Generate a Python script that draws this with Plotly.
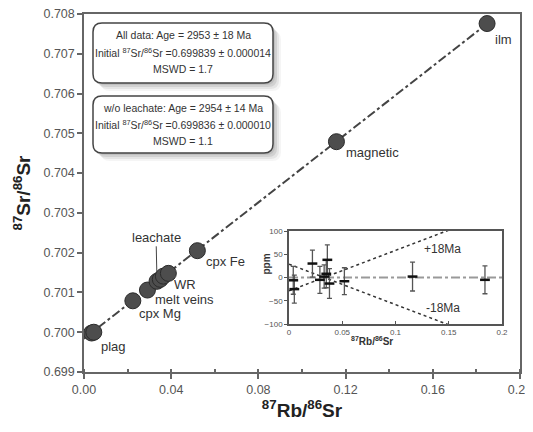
import plotly.graph_objects as go

# ---------------- data ----------------
point_labels = ["plag", "plag", "cpx Mg", "melt veins", "leachate", "WR", "WR", "WR", "cpx Fe", "magnetic", "ilm"]
rb_sr = [0.0035, 0.0045, 0.0224, 0.0291, 0.0335, 0.0350, 0.0364, 0.0387, 0.0520, 0.1158, 0.1849]
sr_sr = [0.69998, 0.70000, 0.70079, 0.70106, 0.70128, 0.70133, 0.70141, 0.70148, 0.70205, 0.70479, 0.70776]

iso_x = [0.0, 0.1849]
iso_y = [0.699839, 0.707756]

res_x = [0.004, 0.005, 0.022, 0.029, 0.033, 0.035, 0.036, 0.038, 0.052, 0.116, 0.184]
res_ppm = [-6, -25, 30, -5, 2, 8, 38, -13, -8, 2, -5]
res_err = [30, 30, 29, 29, 25, 30, 32, 32, 29, 31, 30]

env_x = [0.0, 0.2]
env_plus = [-28.7, 145.3]
env_minus = [28.7, -145.3]
zero_x = [0.0, 0.2]
zero_y = [0, 0]

main_xticks = [0.00, 0.04, 0.08, 0.12, 0.16, 0.20]
main_yticks = [0.699, 0.700, 0.701, 0.702, 0.703, 0.704, 0.705, 0.706, 0.707, 0.708]
inset_xticks = [0, 0.05, 0.1, 0.15, 0.2]
inset_yticks = [-100, -50, 0, 50, 100]

box1_lines = ["All data: Age = 2953 ± 18 Ma",
              "Initial <sup>87</sup>Sr/<sup>86</sup>Sr =0.699839 ± 0.000014",
              "MSWD = 1.7"]
box2_lines = ["w/o leachate: Age = 2954 ± 14 Ma",
              "Initial <sup>87</sup>Sr/<sup>86</sup>Sr =0.699836 ± 0.000010",
              "MSWD = 1.1"]

# ---------------- layout geometry ----------------
# the page body adds an 8px margin, so the figure is shrunk/shifted accordingly
OFF = 8
W, H = 533 - OFF, 432 - 2 * OFF
L, R, T, B = 84 - OFF, 13, 14 - OFF, 60 - OFF
PW, PH = W - L - R, H - T - B
FONT = "Liberation Sans, Arial, sans-serif"


def px(xp):
    # page pixel x -> paper
    return (xp - 84) / PW


def py(yp):
    # page pixel y -> paper
    return (14 + PH - yp) / PH


def rounded(x0, y0, x1, y1, r):
    a, b, c, d = px(x0), px(x1), py(y0), py(y1)
    rx, ry = r / PW, r / PH
    return (f"M {a+rx},{c} L {b-rx},{c} Q {b},{c} {b},{c-ry} "
            f"L {b},{d+ry} Q {b},{d} {b-rx},{d} L {a+rx},{d} "
            f"Q {a},{d} {a},{d+ry} L {a},{c-ry} Q {a},{c} {a+rx},{c} Z")


fig = go.Figure()

# isochron
fig.add_trace(go.Scatter(x=iso_x, y=iso_y, mode="lines",
                         line=dict(color="#444444", width=2, dash="dashdot"),
                         hoverinfo="skip", showlegend=False))
# data points
fig.add_trace(go.Scatter(x=rb_sr, y=sr_sr, mode="markers",
                         marker=dict(size=16, color="#4d4d4d",
                                     line=dict(color="#2b2b2b", width=1)),
                         showlegend=False))

# inset traces
fig.add_trace(go.Scatter(x=zero_x, y=zero_y, mode="lines", xaxis="x2", yaxis="y2",
                         line=dict(color="#999999", width=1.8, dash="dashdot"),
                         showlegend=False))
fig.add_trace(go.Scatter(x=env_x, y=env_plus, mode="lines", xaxis="x2", yaxis="y2",
                         line=dict(color="#333333", width=1.5, dash="dot"),
                         showlegend=False))
fig.add_trace(go.Scatter(x=env_x, y=env_minus, mode="lines", xaxis="x2", yaxis="y2",
                         line=dict(color="#333333", width=1.5, dash="dot"),
                         showlegend=False))
fig.add_trace(go.Scatter(x=res_x, y=res_ppm, mode="markers", xaxis="x2", yaxis="y2",
                         marker=dict(symbol="line-ew", size=7,
                                     line=dict(color="#111111", width=2.5)),
                         error_y=dict(type="data", array=res_err, color="#555555",
                                      thickness=1.3, width=2.5),
                         showlegend=False))

# ---------- point labels ----------
lab_offsets = {
    0: ("plag", 7, -13),
    2: ("cpx Mg", 4, -13),
    3: ("melt veins", 6, -9),
    7: ("WR", 4, -11),
    8: ("cpx Fe", 7, -11),
    9: ("magnetic", 8, -11),
    10: ("ilm", 6, -16),
}
ann = []
for i, (txt, dx, dy) in lab_offsets.items():
    ann.append(dict(x=rb_sr[i], y=sr_sr[i], xref="x", yref="y", text=txt,
                    showarrow=False, xanchor="left", yanchor="middle",
                    xshift=dx, yshift=dy,
                    font=dict(family=FONT, size=13, color="#333333")))
ann.append(dict(x=rb_sr[4], y=sr_sr[4], xref="x", yref="y", text=point_labels[4],
                showarrow=True, arrowhead=0, arrowwidth=1, arrowcolor="#444444",
                ax=-1, ay=-44, standoff=9,
                font=dict(family=FONT, size=13, color="#333333")))

# inset labels
ann.append(dict(x=0.1445, y=62, xref="x2", yref="y2", text="+18Ma", showarrow=False,
                font=dict(family=FONT, size=12, color="#333333")))
ann.append(dict(x=0.1445, y=-65, xref="x2", yref="y2", text="-18Ma", showarrow=False,
                font=dict(family=FONT, size=12, color="#333333")))
ann.append(dict(x=px(395), y=py(349), xref="paper", yref="paper",
                text="<b><sup>87</sup>Rb/<sup>86</sup>Sr</b>", showarrow=False,
                font=dict(family=FONT, size=10, color="#333333")))
ann.append(dict(x=px(266), y=py(277), xref="paper", yref="paper",
                text="<b>ppm</b>", showarrow=False, textangle=-90,
                font=dict(family=FONT, size=10, color="#333333")))

# box texts
for lines, ys in ((box1_lines, (35, 52, 69)), (box2_lines, (108, 125, 141))):
    for t, yy in zip(lines, ys):
        ann.append(dict(x=px(183), y=py(yy), xref="paper", yref="paper", text=t,
                        showarrow=False, xanchor="center", yanchor="middle",
                        font=dict(family=FONT, size=10.5, color="#333333")))

# rounded boxes with soft shadows
shapes = []
for (x0, y0, x1, y1) in ((93, 23, 273, 83), (93, 96, 273, 153)):
    for off, op in ((8, 0.06), (6, 0.10), (4, 0.14), (2, 0.14)):
        shapes.append(dict(type="path", xref="paper", yref="paper",
                           path=rounded(x0 + off, y0 + off, x1 + off, y1 + off, 9),
                           fillcolor=f"rgba(90,90,90,{op})", line=dict(width=0)))
    shapes.append(dict(type="path", xref="paper", yref="paper",
                       path=rounded(x0, y0, x1, y1, 9),
                       fillcolor="white", line=dict(color="#444444", width=1.5)))

fig.update_layout(
    width=W, height=H,
    margin=dict(l=L, r=R, t=T, b=B, autoexpand=False),
    paper_bgcolor="white", plot_bgcolor="white",
    font=dict(family=FONT, color="#444444"),
    showlegend=False,
    annotations=ann, shapes=shapes,
    xaxis=dict(range=[0, 0.2], tickvals=main_xticks, automargin=False,
               ticktext=[f"{v:.2f}" for v in main_xticks], ticklabeloverflow="allow",
               showgrid=False, zeroline=False, showline=True, mirror=True,
               linecolor="#666666", linewidth=1.5,
               ticks="outside", ticklen=5, tickcolor="#666666", tickwidth=1.5,
               minor=dict(ticks="inside", dtick=0.02, ticklen=3, tickcolor="#666666"),
               tickfont=dict(size=12.5, color="#555555"),
               title=dict(text="<b><sup>87</sup>Rb/<sup>86</sup>Sr</b>",
                          font=dict(size=19, color="#222222"), standoff=7)),
    yaxis=dict(range=[0.699, 0.708], tickvals=main_yticks, automargin=False,
               ticktext=[f"{v:.3f}" for v in main_yticks], ticklabeloverflow="allow",
               showgrid=False, zeroline=False, showline=True, mirror=True,
               linecolor="#666666", linewidth=1.5,
               ticks="outside", ticklen=5, tickcolor="#666666", tickwidth=1.5,
               tickfont=dict(size=12.5, color="#555555"),
               title=dict(text="<b><sup>87</sup>Sr/<sup>86</sup>Sr</b>",
                          font=dict(size=19, color="#222222"), standoff=8)),
    xaxis2=dict(domain=[px(289), px(502)], anchor="y2", range=[0, 0.2], automargin=False,
                tickvals=inset_xticks, ticktext=["0", "0.05", "0.1", "0.15", "0.2"],
                showgrid=False, zeroline=False, showline=True, mirror=True,
                linecolor="#555555", linewidth=1.5,
                ticks="inside", ticklen=3, tickcolor="#555555",
                tickfont=dict(size=8, color="#555555")),
    yaxis2=dict(domain=[py(324), py(231)], anchor="x2", range=[-100, 100], automargin=False,
                tickvals=inset_yticks,
                showgrid=False, zeroline=False, showline=True, mirror=True,
                linecolor="#555555", linewidth=1.5,
                ticks="outside", ticklen=3, tickcolor="#555555",
                tickfont=dict(size=8, color="#555555")),
)

fig.write_html("out.html")
